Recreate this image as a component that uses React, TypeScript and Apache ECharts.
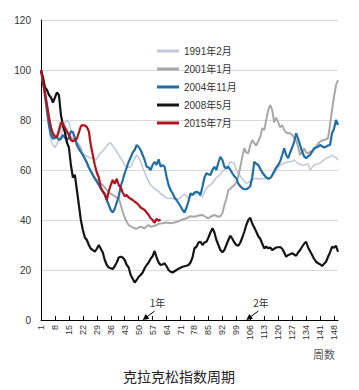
import React, { useEffect, useRef } from "react";
import * as echarts from "echarts";

const weekCount = 150;
const weeks = Array.from({ length: weekCount }, (_, i) => String(i + 1));

const names = ["1991年2月", "2001年1月", "2004年11月", "2008年5月", "2015年7月"];
const colors = ["#c2c9d9", "#a8a8a8", "#1f6ea8", "#151515", "#b0141c"];
const yTicks = { min: 0, max: 120, step: 20 };
const title = "克拉克松指数周期";
const xName = "周数";
const notes = [
  { week: 52, text: "1年" },
  { week: 104, text: "2年" },
];

const s1991: number[][] = [
  [1,100],[2,94],[3,88],[4,82],[5,77],[6,72],[7,70],[8,69],[9,70.5],[10,72],[11,74],[12,77],[13,79],[14,80],[15,79],[16,76],[17,74],[18,72],[19,70],[20,68],
  [21,67.3],[22,66.5],[23,66],[24,65.5],[25,65],[26,65],[27,64.5],[28,64],[29,64.5],[30,66],[31,67],[32,67.5],[33,68.7],[34,69.5],[35,70.5],[36,70.9],[37,69.5],[38,68.7],[39,67.3],[40,66],
  [41,64.7],[42,63.5],[43,62],[44,61.5],[45,61],[46,61.3],[47,63],[48,64.7],[49,66],[50,65],[51,63.5],[52,61],[53,59],[54,57],[55,55.5],[56,54],[57,53.3],[58,52.5],[59,52],[60,51.5],
  [61,50.5],[62,50],[63,49.5],[64,48.7],[66,48.7],[67,48.7],[69,48],[71,49],[73,50.4],[75,48.7],[77,50],[79,50.5],[80,50.7],[81,49.5],[82,49.3],[83,51],[84,52.7],[85,53.5],[87,54.7],[89,57],
  [90,57.5],[92,59.3],[94,61],[95,62],[96,63.3],[97,63],[98,62.7],[99,60],[100,58.5],[101,57.5],[102,56.5],[103,55.5],[104,54.7],[105,55],[106,55.5],[107,56],[108,56.5],[109,56.7],[110,56.3],
  [111,56.5],[112,56.7],[113,56.5],[114,56.7],[115,57],[116,57],[117,57.3],[118,58.5],[119,60],[120,61],[121,62],[122,62.3],[123,62.7],[124,63],[125,63.3],[127,63.5],[128,64],[129,63.3],[130,62.5],
  [131,62.3],[132,62],[133,62],[134,62.3],[135,62.5],[136,60],[137,61],[138,62],[139,62.3],[140,62.5],[141,62.7],[142,63.5],[143,64],[144,64.7],[145,65],[146,65.3],[147,66],[148,65.3],[149,65],[150,64],
];

const s2001: number[][] = [
  [1,100],[2,96],[3,91],[4,86],[5,81],[6,77],[7,74],[8,72.5],[9,73],[10,75],[11,77],[12,78],[13,77],[14,75],[15,74],[16,73],[17,72.5],[18,72],[19,71],[20,70],
  [21,68.5],[22,66],[23,64.5],[24,63],[25,61],[26,59.5],[27,58],[28,57],[29,56],[30,55],[31,54.5],[32,54],[33,53],[34,52],[35,51],[36,50.5],[37,50],[38,49.5],[39,49],[40,48.7],
  [41,46],[42,43.3],[43,41],[44,39.3],[45,38],[46,37.5],[47,37],[48,36.7],[49,36.5],[50,37],[51,37.3],[52,37],[53,36.7],[54,37.5],[55,38],[56,37.3],[57,37.5],[58,37.7],[59,38],[60,38.5],
  [62,38.7],[64,39],[66,38.7],[68,39],[70,39.5],[72,40.2],[74,40.7],[76,41.5],[78,41.3],[80,41.8],[82,42],[84,41],[85,40.7],[86,41.3],[88,42],[90,41.3],[91,41.5],[92,42.7],[93,46],[94,48.5],
  [95,52],[96,52.5],[97,53.3],[98,54],[99,55],[100,57.5],[101,61.3],[102,65.3],[103,68.7],[104,67],[105,66.7],[106,70],[107,72],[108,70.7],[109,69.8],[110,71.5],[111,73.3],[112,76.7],[113,76],[114,80],
  [115,84],[116,86],[117,84],[118,79],[119,81],[120,79],[121,77],[122,78],[123,76],[124,75],[125,74.7],[126,74.7],[127,74],[128,73],[129,72],[130,69.3],[131,66],[132,67],[133,68.7],[134,67],
  [135,66.7],[136,67.3],[137,67],[138,68],[139,69.3],[140,70.5],[141,71.3],[142,71.8],[143,72],[144,72.3],[145,72.7],[146,78],[147,84],[148,89.3],[149,94],[150,96],
];

const s2004: number[][] = [
  [1,100],[2,96],[3,90],[4,84],[5,78],[6,74],[7,72.5],[8,73],[9,73.2],[10,72],[11,72.5],[12,74],[13,73],[14,72],[15,73],[16,75.5],[17,75.2],[18,73],[19,70],[20,68.5],
  [21,67.2],[22,66],[23,64.5],[24,63],[25,61],[26,59.5],[27,58],[28,56.5],[29,55.3],[30,54],[31,52.5],[32,51.3],[33,50],[34,48],[35,46],[36,44],[37,43],[38,44.5],[39,47],[40,49.5],
  [41,53.5],[42,56],[43,58.7],[44,61],[45,63.3],[46,65],[47,67],[48,68],[49,70],[50,69.2],[51,68],[52,66],[53,64],[54,61.3],[55,61],[56,60],[57,62],[58,63.3],[59,62],[60,64.3],
  [61,61.3],[62,62],[63,61.3],[64,57.3],[65,54],[66,52],[67,50.7],[68,49],[69,48],[70,46.7],[71,45.5],[72,44],[73,43],[74,45],[75,47.5],[76,50.7],[77,50],[78,51],[79,51.3],[80,51],
  [81,50],[82,53.3],[83,57],[84,58.7],[85,58.3],[86,58],[87,60],[88,61.3],[89,60],[90,63],[91,65.3],[92,64],[93,61.3],[94,60.7],[95,61.3],[96,60],[97,58.7],[98,57.5],[99,56.7],[100,54.5],
  [101,53.5],[102,52.7],[103,52.3],[104,52.3],[105,52.8],[106,53.5],[107,57.3],[108,63.3],[109,62.5],[110,62],[111,60.5],[112,59],[113,58],[114,57],[115,56.5],[116,56.7],[117,58],[118,59.5],[119,61],[120,62],
  [121,63.5],[122,66],[123,68.7],[124,66],[125,64.7],[126,67],[127,69],[128,71.3],[129,74.7],[130,72.5],[131,70],[132,67.3],[133,65.5],[134,64.7],[135,65.5],[136,66],[137,67.5],[138,68.7],[139,69],[140,69.3],
  [141,70],[142,69.5],[143,69],[144,69.3],[145,69.8],[146,70],[147,74.7],[148,76.5],[149,80],[150,78],
];

const s2008: number[][] = [
  [1,100],[2,97],[3,93],[4,92],[5,90],[6,89],[7,87],[8,89],[9,91],[10,90],[11,82],[12,78],[13,75],[14,71],[15,69],[16,62],[17,57],[18,58],[19,52],[20,46],
  [21,40],[22,36],[23,33],[24,32],[25,30],[26,28.5],[27,28],[28,27.3],[29,28.5],[30,30],[31,28.5],[32,27],[33,24],[34,22],[35,21],[37,20.4],[38,21.5],[39,23],[40,25],[41,25.3],
  [42,25],[43,24],[44,22],[45,21],[46,18],[47,16.5],[48,15],[49,16],[50,17.3],[51,18],[52,19],[53,20.7],[54,22],[55,23],[56,24.5],[57,25.5],[58,27.6],[59,25],[60,23],[61,22],
  [62,22.2],[63,22.7],[64,21.5],[65,20],[66,19.3],[67,19],[68,19.5],[69,20],[70,20.5],[72,21.3],[74,21.7],[75,22],[76,23],[77,25],[78,28.7],[79,29.3],[80,31],[81,31.3],[82,30],[83,31],
  [84,31.3],[85,33],[86,35],[87,36.7],[88,35],[89,32],[90,30],[91,28],[92,27.1],[93,28],[94,30],[95,32],[96,33.7],[97,32.5],[98,31],[99,30],[100,29.7],[101,31],[102,33],[103,35.3],
  [104,38],[105,40],[106,40.9],[107,38.5],[108,37],[109,35.3],[110,33.5],[111,32.5],[112,30.5],[113,28.7],[114,29.3],[115,28.7],[116,29],[117,28],[118,28.5],[119,29],[121,29.2],[122,28.5],[123,27],[124,25.3],
  [125,26],[126,26.3],[127,26.7],[128,26.2],[129,25.7],[130,27],[131,28],[132,29.3],[133,30.5],[134,31.3],[135,29],[136,27.5],[137,26],[138,24.5],[139,23.3],[140,22.7],[141,22.3],[142,21.6],[143,22.5],[144,23.3],
  [145,25.3],[146,27],[147,29.3],[148,28.9],[149,29.7],[150,27.3],
];

const s2015: number[][] = [
  [1,100],[2,95],[3,91],[4,86],[5,81],[6,77],[7,74.5],[8,73.5],[9,73.2],[10,76],[11,79],[12,78.5],[13,77],[14,75.5],[15,74],[16,72],[17,71.5],[18,72],[19,72.5],[20,75],
  [21,77.5],[22,78],[23,77.8],[24,77.2],[25,75.5],[26,70],[27,66],[28,62],[29,59],[30,57],[31,53],[32,51.5],[33,50.5],[34,48],[35,51.5],[36,54],[37,56],[38,54.5],[39,56.5],[40,54],
  [41,53],[42,51],[43,49.5],[44,50],[45,49],[46,48.5],[47,48],[48,47.3],[49,46.8],[50,46],[51,45],[52,44.5],[53,44],[54,43],[55,42],[56,40.7],[57,40],[58,38.9],[59,40.5],[60,39.7],[61,40.2],
];

const seriesData = [s1991, s2001, s2004, s2008, s2015];
const lineWidths = [1.6, 2, 2.2, 2.2, 2.2];

const FONT = "Arial, 'Liberation Sans', 'Noto Sans CJK SC', sans-serif";

export default function App() {
  const ref = useRef<HTMLDivElement>(null);
  useEffect(() => {
    document.body.style.margin = "0";
    if (!ref.current) return;
    const chart = echarts.init(ref.current, undefined, { renderer: "svg" });
    chart.setOption({
      animation: false,
      textStyle: { fontFamily: FONT },
      grid: { left: 41, right: 21, top: 20, bottom: 70 },
      title: {
        text: title,
        left: 118,
        top: 364,
        textStyle: { fontSize: 14, fontWeight: "normal", color: "#222", fontFamily: "'Noto Sans CJK SC', sans-serif" },
      },
      legend: {
        orient: "vertical",
        left: 152,
        top: 40,
        icon: "rect",
        itemWidth: 22,
        itemHeight: 3,
        itemGap: 6,
        data: names,
        textStyle: { fontSize: 10, color: "#333", lineHeight: 12, fontFamily: FONT },
      },
      xAxis: {
        type: "category",
        data: weeks,
        boundaryGap: false,
        axisLine: { lineStyle: { color: "#000", width: 1 } },
        axisTick: { inside: true, length: 4, interval: 6, lineStyle: { color: "#000" } },
        axisLabel: { interval: 6, rotate: 90, fontSize: 9, color: "#333", margin: 5, fontFamily: FONT },
        splitLine: { show: false },
      },
      yAxis: {
        type: "value",
        min: yTicks.min,
        max: yTicks.max,
        interval: yTicks.step,
        axisLine: { show: true, lineStyle: { color: "#000", width: 1 } },
        axisTick: { show: false },
        splitLine: { lineStyle: { color: "#d9d9d9", width: 1 } },
        axisLabel: { fontSize: 10, color: "#333", margin: 10, fontFamily: FONT },
      },
      series: names.map((n, i) => ({
        name: n,
        type: "line",
        symbol: "none",
        showSymbol: false,
        data: seriesData[i].map(([w, v]) => [w - 1, v]),
        lineStyle: { color: colors[i], width: lineWidths[i] },
        itemStyle: { color: colors[i] },
      })),
    });

    const graphics: any[] = [
      {
        type: "text",
        x: 313,
        y: 348,
        style: { text: xName, fontSize: 11, fill: "#555", fontFamily: "'Noto Sans CJK SC', sans-serif" },
      },
    ];
    notes.forEach((n) => {
      const p = chart.convertToPixel({ gridIndex: 0 }, [n.week - 1, 0]) as number[];
      const tx = p[0];
      const ty = p[1];
      graphics.push(
        { type: "line", shape: { x1: tx + 12, y1: ty - 9, x2: tx + 3, y2: ty - 2.2 }, style: { stroke: "#000", lineWidth: 1 } },
        { type: "polygon", shape: { points: [[tx, ty], [tx + 6.6, ty - 1.2], [tx + 3, ty - 6]] }, style: { fill: "#000" } },
        {
          type: "text",
          x: tx + 7,
          y: ty - 18,
          style: { text: n.text, fontSize: 10, fill: "#333", verticalAlign: "middle", fontFamily: "'Noto Sans CJK SC', sans-serif" },
        }
      );
    });
    chart.setOption({ graphic: graphics });

    return () => chart.dispose();
  }, []);
  return <div ref={ref} style={{ position: "fixed", left: 0, top: 0, width: 359, height: 390, background: "#fff" }} />;
}
